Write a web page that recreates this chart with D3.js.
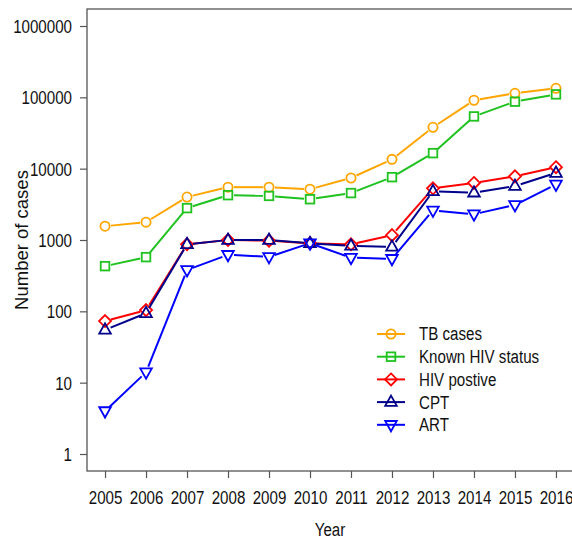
<!DOCTYPE html>
<html>
<head>
<meta charset="utf-8">
<script src="https://cdn.jsdelivr.net/npm/d3@7"></script>
<style>
    body { margin: 0; background: #fff; }
    text { font-family: "Liberation Sans", Arial, sans-serif; fill: #111; }
</style>
</head>
<body>
<svg id="chart"></svg>
<script>
"use strict";

// anos do eixo x
var anos = [2005, 2006, 2007, 2008, 2009, 2010, 2011, 2012, 2013, 2014, 2015, 2016];

// valores (escala log)
var tbCases = [1560, 1780, 4000, 5500, 5500, 5150, 7400, 13500, 38000, 91000, 114000, 134000];
var knownHiv = [430, 575, 2800, 4250, 4150, 3730, 4550, 7600, 16500, 54000, 87000, 110000];
var hivPositive = [73, 104, 870, 1000, 980, 900, 870, 1170, 5300, 6300, 7800, 10500];
var cpt = [55, 94, 870, 1000, 1000, 900, 830, 800, 4800, 4600, 5700, 8700];
var art = [4, 14, 380, 620, 580, 900, 565, 545, 2600, 2300, 3100, 6000];

var yTicks = [1, 10, 100, 1000, 10000, 100000, 1000000];

var series = [
    { nome: "TB cases", valores: tbCases, cor: "#ffa500", simbolo: "circle" },
    { nome: "Known HIV status", valores: knownHiv, cor: "#1fc21f", simbolo: "square" },
    { nome: "HIV postive", valores: hivPositive, cor: "#ff0000", simbolo: "diamond" },
    { nome: "CPT", valores: cpt, cor: "#00008b", simbolo: "up" },
    { nome: "ART", valores: art, cor: "#0000ff", simbolo: "down" }
];

var largura = 572, altura = 543;
var margemEsq = 87, margemTopo = 9, baseEixo = 471;

var svg = d3.select("#chart")
    .attr("width", largura)
    .attr("height", altura);

// o original tem o texto estreito na horizontal
function comprime(sel) {
    sel.each(function () {
        var w = this.getComputedTextLength();
        d3.select(this)
            .attr("textLength", w * 0.84)
            .attr("lengthAdjust", "spacingAndGlyphs");
    });
}

var x = d3.scaleLinear()
    .domain([2005 - 0.44, 2016 + 0.44])
    .range([margemEsq, 574]);

var y = d3.scaleLog()
    .domain([1, 1000000])
    .range([454, 26]);

// caixa do grafico
svg.append("rect")
    .attr("x", margemEsq)
    .attr("y", margemTopo)
    .attr("width", 574 - margemEsq)
    .attr("height", baseEixo - margemTopo)
    .attr("fill", "none")
    .attr("stroke", "#555")
    .attr("stroke-width", 1.3);

// eixo y
var gy = svg.append("g")
    .attr("transform", "translate(" + margemEsq + ",0)")
    .call(d3.axisLeft(y).tickValues(yTicks).tickFormat(d3.format("d")).tickSize(7).tickPadding(8));
gy.select(".domain").remove();
gy.selectAll(".tick line").attr("stroke", "#555").attr("stroke-width", 1.2);
gy.selectAll(".tick text").style("font-size", "18px").attr("dy", "0.36em").call(comprime);

// eixo x
var gx = svg.append("g")
    .attr("transform", "translate(0," + baseEixo + ")")
    .call(d3.axisBottom(x).tickValues(anos).tickFormat(d3.format("d")).tickSize(7).tickPadding(13));
gx.select(".domain").remove();
gx.selectAll(".tick line").attr("stroke", "#555").attr("stroke-width", 1.2);
gx.selectAll(".tick text").style("font-size", "18px").call(comprime);

// titulos dos eixos
svg.append("text")
    .attr("x", 330)
    .attr("y", 536)
    .attr("text-anchor", "middle")
    .style("font-size", "18px")
    .text("Year")
    .call(comprime);

svg.append("text")
    .attr("transform", "translate(28,240) rotate(-90)")
    .attr("text-anchor", "middle")
    .style("font-size", "18.5px")
    .text("Number of cases");

function desenhaSimbolo(g, tipo, cx, cy, cor) {
    var s;
    if (tipo === "circle") {
        s = g.append("circle").attr("cx", cx).attr("cy", cy).attr("r", 4.6);
    } else if (tipo === "square") {
        s = g.append("rect").attr("x", cx - 4.3).attr("y", cy - 4.3).attr("width", 8.6).attr("height", 8.6);
    } else {
        var pts;
        if (tipo === "diamond") {
            pts = [[cx, cy - 6], [cx + 6, cy], [cx, cy + 6], [cx - 6, cy]];
        } else if (tipo === "up") {
            pts = [[cx, cy - 6.5], [cx + 5.8, cy + 3.8], [cx - 5.8, cy + 3.8]];
        } else {
            pts = [[cx, cy + 6.5], [cx + 5.8, cy - 3.8], [cx - 5.8, cy - 3.8]];
        }
        s = g.append("polygon").attr("points", pts.map(function (p) { return p.join(","); }).join(" "));
    }
    s.attr("fill", "none").attr("stroke", cor).attr("stroke-width", 1.8);
}

series.forEach(function (s) {
    var g = svg.append("g");
    // segmentos com folga ao redor dos simbolos (estilo type="b")
    s.valores.forEach(function (v, i) {
        if (i === 0) return;
        var x0 = x(anos[i - 1]), y0 = y(s.valores[i - 1]);
        var x1 = x(anos[i]), y1 = y(v);
        var dx = x1 - x0, dy = y1 - y0, len = Math.sqrt(dx * dx + dy * dy);
        var gap = 6;
        if (len <= 2 * gap) return;
        g.append("line")
            .attr("x1", x0 + dx / len * gap)
            .attr("y1", y0 + dy / len * gap)
            .attr("x2", x1 - dx / len * gap)
            .attr("y2", y1 - dy / len * gap)
            .attr("stroke", s.cor)
            .attr("stroke-width", 2);
    });
    s.valores.forEach(function (v, i) {
        desenhaSimbolo(g, s.simbolo, x(anos[i]), y(v), s.cor);
    });
});

// legenda
var legenda = svg.append("g");
series.forEach(function (s, i) {
    var ly = 334 + i * 22.7;
    legenda.append("line")
        .attr("x1", 377).attr("x2", 405)
        .attr("y1", ly).attr("y2", ly)
        .attr("stroke", s.cor).attr("stroke-width", 2);
    desenhaSimbolo(legenda, s.simbolo, 391, ly, s.cor);
    legenda.append("text")
        .attr("x", 419)
        .attr("y", ly)
        .attr("dy", "0.36em")
        .style("font-size", "18px")
        .text(s.nome)
        .call(comprime);
});
</script>
</body>
</html>
